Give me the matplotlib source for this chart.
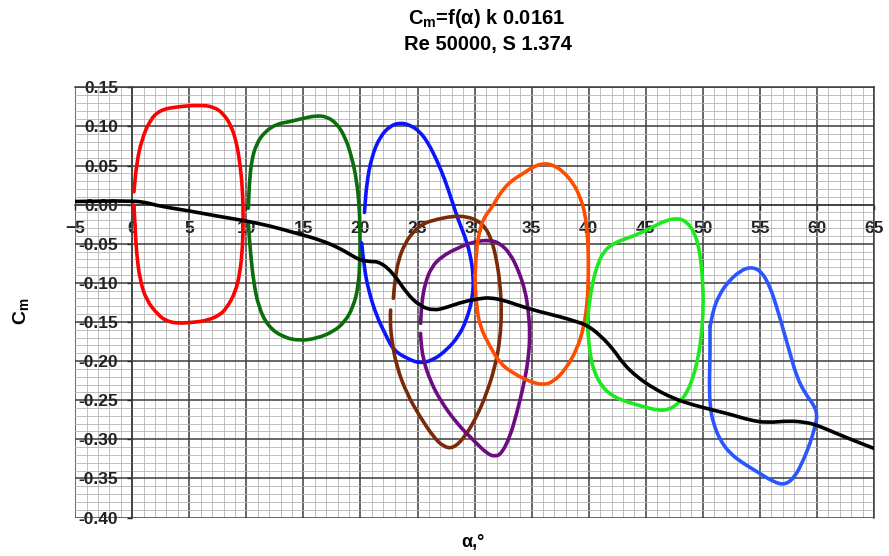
import matplotlib
matplotlib.use("Agg")
import matplotlib.pyplot as plt
from matplotlib.ticker import MultipleLocator, FormatStrFormatter
from matplotlib.path import Path
from matplotlib.patches import PathPatch
import numpy as np

plt.rcParams['font.family'] = ['Liberation Sans', 'DejaVu Sans']
plt.rcParams['mathtext.fontset'] = 'custom'
plt.rcParams['mathtext.rm'] = 'Liberation Sans:bold'
plt.rcParams['mathtext.it'] = 'Liberation Sans:bold'
plt.rcParams['mathtext.bf'] = 'Liberation Sans:bold'

# ---- static moment curve Cm(alpha) ----
alpha_static = [-5, 0, 1.3, 2.4, 5, 7.4, 9.9, 12.1, 14.4, 16.5, 18.2, 19.4, 20.0,
                20.8, 21.7, 22.9, 24.05, 25.2, 26.4, 27.55, 29.0, 30.5, 31.35,
                32.5, 34.0, 35.7, 37.5, 38.95, 39.9, 41.0, 42.16, 43.0, 44.2,
                45.7, 47.4, 49.2, 50.9, 52.4, 54.1, 55.6, 57.6, 59.1, 60.0, 61.7,
                63.5, 65.0]
cm_static = [0.004, 0.005, 0.0025, -0.002, -0.008, -0.0146, -0.0206, -0.0273,
             -0.0367, -0.0452, -0.0559, -0.0665, -0.0708, -0.0729, -0.073,
             -0.088, -0.1135, -0.1296, -0.1356, -0.1314, -0.1241, -0.1199,
             -0.119, -0.122, -0.1296, -0.1369, -0.1433, -0.1497, -0.1545,
             -0.167, -0.185, -0.203, -0.22, -0.235, -0.2477, -0.2563, -0.2627,
             -0.268, -0.2755, -0.2789, -0.2763, -0.2785, -0.2819, -0.2925,
             -0.3032, -0.3117]

# ---- oscillation loops ----
loop_0_10_a = [0.15, 0.38, 0.82, 1.55, 2.43, 3.89, 5.93, 7.10, 7.98, 8.71, 9.15,
               9.44, 9.67, 9.73, 9.67, 9.44, 9.00, 8.27, 7.69, 6.60, 5.35, 3.90,
               2.90, 2.28, 1.26, 0.67, 0.38, 0.24, 0.15]
loop_0_10_c = [0.0165, 0.0527, 0.0826, 0.1082, 0.1209, 0.1252, 0.1273, 0.1252,
               0.1167, 0.0996, 0.0783, 0.0527, 0.0186, -0.0197, -0.0538,
               -0.0879, -0.1135, -0.132, -0.141, -0.148, -0.1505, -0.152,
               -0.148, -0.141, -0.123, -0.0964, -0.0623, -0.0283, -0.0005]

loop_10_20_a = [10.17, 10.26, 10.46, 10.90, 11.63, 12.65, 13.82, 14.99, 16.16,
                17.03, 17.91, 18.64, 19.23, 19.66, 19.90, 19.96, 19.96, 19.81,
                19.37, 18.64, 17.62, 16.16, 14.70, 13.24, 11.92, 11.05, 10.61,
                10.37, 10.23, 10.17]
loop_10_20_c = [-0.0047, 0.0272, 0.0571, 0.0784, 0.0933, 0.1031, 0.1061, 0.1104,
                0.1138, 0.1125, 0.1040, 0.0869, 0.0613, 0.0315, -0.0026,
                -0.0367, -0.0708, -0.1049, -0.1305, -0.1497, -0.1625, -0.1710,
                -0.1740, -0.1697, -0.1561, -0.1305, -0.0964, -0.0623, -0.0367,
                -0.0218]

loop_20_30_a = [20.35, 20.54, 20.98, 21.71, 22.59, 23.46, 24.34, 25.21, 25.95,
                26.68, 27.41, 27.99, 28.57, 29.16, 29.60, 29.90, 29.85, 29.30,
                28.57, 27.55, 26.38, 25.21, 24.05, 22.88, 22.29, 21.42, 20.69,
                20.31, 20.10]
loop_20_30_c = [-0.010, 0.0272, 0.0613, 0.0869, 0.1006, 0.1048, 0.1018, 0.0933,
                0.0784, 0.0571, 0.0315, 0.0059, -0.0197, -0.0410, -0.0623,
                -0.090, -0.118, -0.1476, -0.1689, -0.1859, -0.1987, -0.2030,
                -0.1966, -0.1859, -0.169, -0.143, -0.109, -0.079, -0.049]

loop_23_32_a = [22.88, 23.02, 23.32, 23.90, 24.63, 25.51, 26.68, 28.14, 29.30,
                30.18, 30.91, 31.50, 31.93, 32.23, 32.37, 32.23, 31.79, 31.06,
                30.18, 29.16, 28.14, 27.26, 26.38, 25.21, 24.05, 23.17, 22.73,
                22.59, 22.64]
loop_23_32_c = [-0.1198, -0.0964, -0.0708, -0.0495, -0.0346, -0.0239, -0.0188,
                -0.0146, -0.0154, -0.0197, -0.0282, -0.0452, -0.0708, -0.1007,
                -0.1348, -0.1731, -0.2072, -0.2413, -0.2712, -0.2967, -0.3117,
                -0.3095, -0.2967, -0.2712, -0.2413, -0.2072, -0.1731, -0.1475,
                -0.1348]

loop_25_35_a = [25.27, 25.36, 25.65, 26.24, 27.11, 28.43, 29.89, 31.35, 32.23,
                33.10, 33.83, 34.42, 34.71, 34.86, 34.71, 34.27, 33.69, 33.10,
                32.37, 31.79, 31.06, 29.89, 28.43, 26.97, 26.09, 25.51, 25.27,
                25.27]
loop_25_35_c = [-0.1518, -0.1262, -0.1007, -0.0794, -0.0665, -0.0559, -0.0474,
                -0.0452, -0.0495, -0.0623, -0.0836, -0.1092, -0.1348, -0.1646,
                -0.1987, -0.2328, -0.2669, -0.2967, -0.3181, -0.3223, -0.3181,
                -0.3010, -0.2797, -0.2498, -0.2243, -0.1987, -0.1731, -0.1646]

loop_30_40_a = [30.05, 30.15, 30.40, 30.80, 31.50, 32.23, 33.10, 34.27, 35.15,
                36.02, 36.90, 37.78, 38.65, 39.24, 39.68, 39.88, 39.97, 39.97,
                39.90, 39.59, 38.95, 37.92, 36.90, 36.02, 34.86, 33.39, 32.23,
                31.35, 30.47, 30.18, 30.03, 30.05]
loop_30_40_c = [-0.090, -0.060, -0.035, -0.017, -0.004, 0.0145, 0.0294, 0.0400,
                0.0485, 0.0528, 0.0507, 0.0422, 0.0272, 0.0102, -0.0111, -0.0367,
                -0.0623, -0.090, -0.122, -0.156, -0.186, -0.2115, -0.2264,
                -0.2307, -0.2264, -0.2157, -0.2030, -0.1816, -0.1560, -0.1305,
                -0.100, -0.090]

loop_40_50_a = [39.88, 39.97, 40.26, 40.70, 41.28, 42.16, 43.33, 44.50, 45.66,
                46.83, 47.86, 48.59, 49.32, 49.76, 49.99, 50.05, 49.90, 49.61,
                49.17, 48.59, 47.86, 46.98, 45.96, 44.79, 43.33, 42.16, 41.14,
                40.41, 40.11, 39.97, 39.88]
loop_40_50_c = [-0.1539, -0.1348, -0.1049, -0.0794, -0.0602, -0.0495, -0.0431,
                -0.0367, -0.0282, -0.0197, -0.0175, -0.0218, -0.0367, -0.0623,
                -0.0964, -0.1305, -0.1646, -0.1944, -0.2200, -0.2413, -0.2541,
                -0.2627, -0.2627, -0.2584, -0.2520, -0.2456, -0.2328, -0.2115,
                -0.1902, -0.1689, -0.1539]

loop_50_60_a = [50.63, 50.92, 51.36, 52.09, 53.26, 54.28, 55.16, 55.89, 56.47,
                57.06, 57.64, 58.23, 58.96, 59.75, 60.04, 59.83, 59.40, 58.81,
                58.08, 57.20, 56.18, 55.01, 53.55, 52.38, 51.51, 50.92, 50.63,
                50.57, 50.63, 50.63, 50.63]
loop_50_60_c = [-0.1561, -0.1348, -0.1178, -0.1007, -0.0845, -0.0794, -0.0858,
                -0.1050, -0.1306, -0.1604, -0.1902, -0.2201, -0.2414, -0.2563,
                -0.2691, -0.2840, -0.3053, -0.3267, -0.3480, -0.3586, -0.3544,
                -0.3437, -0.3309, -0.3181, -0.3011, -0.2797, -0.2584, -0.2286,
                -0.1945, -0.1689, -0.1561]

loops = [
    (loop_0_10_a, loop_0_10_c, '#ff0000'),
    (loop_10_20_a, loop_10_20_c, '#0a6e0a'),
    (loop_20_30_a, loop_20_30_c, '#0a14ff'),
    (loop_23_32_a, loop_23_32_c, '#7a2a08'),
    (loop_25_35_a, loop_25_35_c, '#6c0c80'),
    (loop_30_40_a, loop_30_40_c, '#ff4d00'),
    (loop_40_50_a, loop_40_50_c, '#1ee81e'),
    (loop_50_60_a, loop_50_60_c, '#2a55ff'),
]

x_ticks = list(range(-5, 66, 5))
y_ticks = [-0.40, -0.35, -0.30, -0.25, -0.20, -0.15, -0.10, -0.05, 0.00, 0.05, 0.10, 0.15]


def smooth_path(xs, ys):
    """Quadratic Bezier path using the read points as control points."""
    pts = np.column_stack([xs, ys])
    verts = [pts[0]]
    codes = [Path.MOVETO]
    if len(pts) > 2:
        verts.append((pts[0] + pts[1]) / 2)
        codes.append(Path.LINETO)
        for i in range(1, len(pts) - 1):
            verts.append(pts[i])
            verts.append((pts[i] + pts[i + 1]) / 2 if i < len(pts) - 2 else pts[i + 1])
            codes += [Path.CURVE3, Path.CURVE3]
    else:
        verts.append(pts[1])
        codes.append(Path.LINETO)
    return Path(verts, codes)


def draw_curve(ax, xs, ys, color, z):
    patch = PathPatch(smooth_path(xs, ys), fill=False, edgecolor=color, lw=2.6,
                      capstyle='round', joinstyle='round', zorder=z)
    ax.add_patch(patch)


fig = plt.figure(figsize=(8.89, 5.56), dpi=100)
ax = fig.add_axes([75.2 / 889, 1 - 517.5 / 556, (874 - 75.2) / 889, (517.5 - 87.3) / 556])
ax.set_xlim(-5, 65)
ax.set_ylim(-0.40, 0.15)

ax.xaxis.set_minor_locator(MultipleLocator(1))
ax.yaxis.set_minor_locator(MultipleLocator(0.01))
ax.set_xticks(x_ticks)
ax.set_yticks(y_ticks)
ax.yaxis.set_major_formatter(FormatStrFormatter('%.2f'))

ax.grid(which='minor', color='#b4b4b4', lw=0.6)
ax.grid(which='major', color='#3c3c3c', lw=1.1)
ax.set_axisbelow(True)

# axes cross at the origin, Excel style
ax.spines['left'].set_position(('data', 0))
ax.spines['bottom'].set_position(('data', 0))
for s in ax.spines.values():
    s.set_color('#3c3c3c')
    s.set_linewidth(1.1)

ax.tick_params(which='minor', length=0)
ax.tick_params(axis='y', which='major', direction='out', length=3.6, width=1,
               pad=6.5, labelsize=12.5, colors='#222222')
ax.tick_params(axis='x', which='major', direction='out', length=3.6, width=1,
               pad=8.5, labelsize=12.5, colors='#222222')
for lab in ax.get_xticklabels() + ax.get_yticklabels():
    lab.set_fontweight('bold')

for a, c, col in loops:
    draw_curve(ax, a, c, col, 3)
draw_curve(ax, alpha_static, cm_static, 'black', 4)

fig.text(487 / 889, 1 - 19 / 556, r'$C_m$=f(α) k 0.0161', ha='center', va='center',
         fontsize=14.5, fontweight='bold')
fig.text(488 / 889, 1 - 45 / 556, 'Re 50000, S 1.374', ha='center', va='center',
         fontsize=14.5, fontweight='bold')
fig.text(21 / 889, 1 - 311 / 556, r'$C_m$', ha='center', va='center', rotation=90,
         fontsize=14, fontweight='bold')
fig.text(473 / 889, 1 - 543 / 556, 'α,°', ha='center', va='center',
         fontsize=13, fontweight='bold')

fig.savefig('out.png', dpi=100)
